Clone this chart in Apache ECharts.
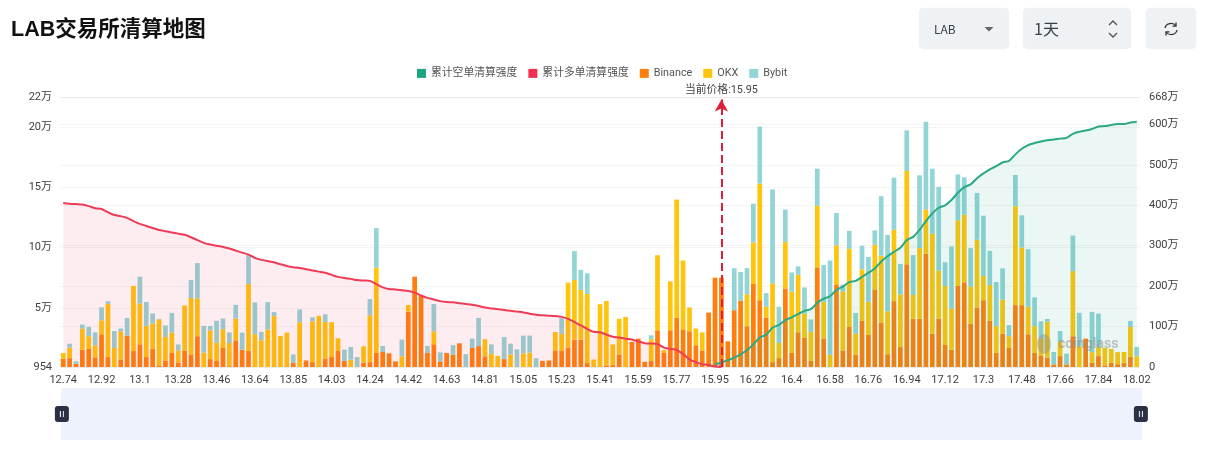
<!DOCTYPE html>
<html>
<head>
<meta charset="utf-8">
<title>LAB交易所清算地图</title>
<script src="https://cdn.jsdelivr.net/npm/echarts@6/dist/echarts.min.js"></script>
<style>
  html, body { margin: 0; padding: 0; background: #fff; overflow: hidden; }
  #chart { position: absolute; left: 0; top: 0; width: 1210px; height: 449px; }
  .ctl { position: absolute; top: 8px; height: 41px; background: #eff2f5; border-radius: 5px; box-shadow: 0 0 1px rgba(0,0,0,.12); font-family: "Noto Sans CJK SC", Roboto, sans-serif; color: #3a3f46; }
  .ctl span { position: absolute; top: 0; line-height: 41px; }
  .ctl svg { position: absolute; }
</style>
</head>
<body>
<div id="chart"></div>
<div class="ctl" style="left:919px;width:90px"><span style="left:15px;font-size:12px">LAB</span>
  <svg style="left:65px;top:19px" width="10" height="6"><path d="M0.5 0H9.5L5 4.5Z" fill="#666"/></svg></div>
<div class="ctl" style="left:1023px;width:108px"><span style="left:11px;font-size:16px">1天</span>
  <svg style="left:84px;top:11px" width="12" height="20" fill="none" stroke="#555" stroke-width="1.4"><path d="M2 6L6 2L10 6M2 14L6 18L10 14"/></svg></div>
<div class="ctl" style="left:1146px;width:50px">
  <svg style="left:17px;top:13px" width="16" height="16" fill="none" stroke="#333" stroke-width="1.3"><path d="M2 7A6 5.5 0 0 1 13 5M14 9A6 5.5 0 0 1 3 11"/><path d="M13 1.5V5.2H9.5M3 14.5V10.8H6.5"/></svg></div>
<script>
// Tick labels along the liquidation price axis, one every six price buckets.
const priceTicks = ['12.74','12.92','13.1','13.28','13.46','13.64','13.85','14.03','14.24','14.42','14.63','14.81','15.05','15.23','15.41','15.59','15.77','15.95','16.22','16.4','16.58','16.76','16.94','17.12','17.3','17.48','17.66','17.84','18.02'];

// Liquidation strength per price bucket, in units of 万.
const binance = [
  .78,.83,.36,1.53,1.59,.89,2.81,.92,.03,.72,
  2.70,1.42,1.98,.92,1.62,.23,.64,1.28,.47,1.47,
  1.14,2.65,.03,.75,.59,1.67,.16,2.31,1.53,1.42,
  0,0,0,0,0,0,.42,0,.64,.50,
  0,.80,.92,1.42,.59,0,0,.47,.50,1.26,
  1.34,1.23,.56,0,4.68,7.59,6.00,1.26,1.98,.56,
  1.26,1.11,2.06,0,1.67,1.83,.98,0,0,.75,
  0,0,0,0,0,.61,.64,1.47,1.42,1.72,
  2.37,2.37,.42,0,0,.23,.25,1.14,0,2.17,
  2.45,.53,.59,3.14,1.26,3.14,4.17,3.22,3.06,1.90,
  1.47,4.61,7.51,7.51,2.22,4.81,5.59,3.48,6.98,5.64,
  4.20,.50,.83,6.62,1.26,2.98,2.50,.59,8.37,2.47,
  0,6.95,1.47,3.42,1.11,3.92,2.75,6.54,3.76,1.16,
  5.56,1.75,8.62,4.09,4.09,9.49,2.86,4.12,1.92,1.53,
  6.82,7.12,3.70,5.04,5.64,3.92,1.26,2.86,1.67,5.23,
  5.23,2.81,1.26,1.06,.87,.31,1.00,.31,2.65,0,
  2.45,.44,1.00,.23,.44,.33,.42,.92,0
];
const okx = [
  .47,.87,0,1.75,1.06,1.00,1.16,4.40,1.64,2.34,
  0,5.40,3.39,2.59,2.09,3.81,1.95,1.67,1.00,3.73,
  4.68,3.14,1.26,2.39,1.53,1.56,1.92,1.81,0,5.56,
  2.81,2.31,3.20,4.32,2.67,2.95,0,3.81,0,3.39,
  4.34,3.03,2.89,1.06,0,.70,0,1.34,3.89,7.09,
  0,0,0,.98,.56,0,0,0,1.08,0,
  0,0,0,0,0,0,1.42,1.19,1.00,0,
  1.14,0,1.23,1.28,0,0,0,1.53,1.42,5.37,
  4.95,4.12,5.73,.72,5.31,5.34,1.72,2.95,4.25,0,
  0,0,1.81,6.23,.23,4.06,9.82,5.71,1.98,1.39,
  1.50,0,0,0,0,0,0,2.65,3.45,9.68,
  .89,6.54,1.26,3.84,5.09,4.76,2.03,2.42,5.09,3.03,
  1.11,3.25,4.87,6.48,1.75,4.28,2.75,3.70,5.56,3.56,
  5.92,4.37,7.74,1.98,5.87,3.67,8.29,3.98,4.89,3.42,
  5.45,5.61,3.06,5.61,2.00,2.98,2.22,2.83,.98,8.21,
  4.78,2.28,2.22,1.39,2.98,0,1.16,0,5.40,1.81,
  0,.89,.75,1.44,1.16,1.00,.92,2.50,.98
];
const bybit = [
  0,.33,.20,.33,.78,1.08,1.08,.23,1.42,.23,
  1.47,0,2.22,1.98,.83,.05,.95,1.64,.50,0,
  1.50,2.93,2.22,.36,1.81,.89,.89,1.14,1.42,2.42,
  2.65,.70,2.28,.33,0,0,.72,1.06,0,.33,
  0,.64,0,0,.95,1.06,.92,0,1.34,3.27,
  .50,0,0,1.39,0,0,0,.59,2.26,.75,
  0,.80,0,1.16,.78,2.34,0,.78,0,1.83,
  .89,1.56,1.47,1.42,.83,0,0,0,1.31,0,
  2.39,1.67,1.72,0,0,0,0,0,0,0,
  0,0,.33,0,0,0,0,0,0,0,
  0,0,0,0,0,3.48,2.39,2.17,3.22,4.73,
  1.14,7.79,3.01,2.70,1.59,.70,2.17,1.03,3.09,3.06,
  7.82,2.67,.59,1.50,1.72,1.95,3.73,1.19,4.95,6.34,
  4.32,2.53,3.37,3.31,6.04,7.28,5.40,6.95,1.98,5.15,
  3.81,3.11,3.20,3.89,5.01,2.83,3.67,2.59,.92,2.59,
  2.67,4.78,2.39,1.44,.23,1.03,.92,.89,2.95,2.78,
  0,3.34,2.78,0,0,0,0,.50,.78
];

// Cumulative long liquidations below the current price, in 万.
const cumulativeLong = [
  406,404,403,402,398,393,391,383,376,373,
  369,361,354,349,344,339,336,333,330,327,
  321,314,307,303,300,297,293,288,283,278,
  270,265,262,259,254,250,247,245,242,239,
  236,233,228,223,220,218,215,214,213,205,
  197,193,192,190,188,184,177,171,167,163,
  161,160,158,156,154,151,147,145,143,141,
  139,137,135,132,129,128,127,126,124,119,
  111,103,94,87,86,80,75,73,70,68,
  63,59,58,57,48,45,42,32,19,12,
  7,5,1,0
];
// Cumulative short liquidations above the current price, in 万; starts at bucket 102.
const cumulativeShort = [
  6,11,17,23,31,42,56,73,80,97,
  104,116,123,131,139,143,159,169,175,191,
  199,210,213,223,233,244,261,274,285,295,
  314,322,339,361,380,394,400,413,431,445,
  452,467,479,489,497,506,510,526,540,549,
  554,558,561,563,565,567,577,582,585,589,
  595,596,599,601,601,605,607
];

const leftTicks = [0.0954, 5, 10, 15, 20, 22.5];
const rightTicks = [0, 100, 200, 300, 400, 500, 600, 668];
const currentPriceLabel = '当前价格:15.95';
const currentPriceBucket = 103;

const bucketCount = binance.length;
const categories = [];
for (let i = 0; i < bucketCount; i++) categories.push(i % 6 === 0 ? priceTicks[i / 6] : '');
const shortSeries = new Array(bucketCount - cumulativeShort.length).fill(null).concat(cumulativeShort);

const tickFont = { color: '#3d3d3d', fontSize: 11, fontFamily: 'Roboto, "Noto Sans CJK SC", sans-serif' };
const faintLine = { show: true, lineStyle: { color: 'rgba(0,0,0,0.045)', type: 'solid', width: 1 } };

function barSeries(name, data, color) {
  return { name, type: 'bar', stack: 'exchange', data, barWidth: 4.7, itemStyle: { color } };
}

const chart = echarts.init(document.getElementById('chart'));
chart.setOption({
  animation: false,
  backgroundColor: '#fff',
  title: {
    text: 'LAB交易所清算地图', left: 11, top: 19, padding: 0,
    textStyle: { fontSize: 21.5, fontWeight: 'bold', color: '#111', fontFamily: '"Liberation Sans", "Noto Sans CJK SC", sans-serif' }
  },
  legend: {
    top: 63, left: 412, icon: 'rect', itemWidth: 9, itemHeight: 9, itemGap: 11,
    textStyle: { color: '#555', fontSize: 10.8, fontFamily: 'Roboto, "Noto Sans CJK SC", sans-serif' },
    data: ['累计空单清算强度', '累计多单清算强度', 'Binance', 'OKX', 'Bybit']
  },
  grid: { left: 60, right: 70, top: 97, height: 270 },
  xAxis: {
    type: 'category', data: categories, boundaryGap: true,
    axisLine: { show: false }, axisTick: { show: false }, splitLine: { show: false },
    axisLabel: Object.assign({}, tickFont, { interval: 5, margin: 8, showMinLabel: true, showMaxLabel: true })
  },
  yAxis: [
    {
      type: 'value', min: leftTicks[0], max: 22.5, position: 'left',
      axisLine: { show: false }, axisTick: { show: false, customValues: leftTicks },
      splitLine: faintLine,
      axisLabel: Object.assign({}, tickFont, {
        customValues: leftTicks, margin: 8, padding: [4, 0, 0, 0],
        formatter: v => (v < 1 ? String(Math.round(v * 10000)) : Math.floor(v) + '万')
      })
    },
    {
      type: 'value', min: 0, max: 668, position: 'right',
      axisLine: { show: false }, axisTick: { show: false, customValues: rightTicks },
      splitLine: faintLine,
      axisLabel: Object.assign({}, tickFont, {
        customValues: rightTicks, margin: 9, padding: [4, 0, 0, 0],
        formatter: v => (v === 0 ? '0' : v + '万')
      })
    }
  ],
  dataZoom: [{
    type: 'slider', xAxisIndex: 0, start: 0, end: 100,
    left: 60, right: 69, top: 388, height: 52,
    backgroundColor: '#eef2fd', fillerColor: 'rgba(238,242,253,0.4)',
    borderColor: 'transparent', borderRadius: 0,
    showDetail: false, showDataShadow: false, brushSelect: false, moveHandleSize: 0,
    handleIcon: 'path://M3 0H11A3 3 0 0 1 14 3V13A3 3 0 0 1 11 16H3A3 3 0 0 1 0 13V3A3 3 0 0 1 3 0ZM5 5V11H6V5ZM8 5V11H9V5Z',
    handleSize: 16,
    handleStyle: { color: '#2b3044', borderWidth: 0 }
  }],
  series: [
    {
      name: '累计空单清算强度', type: 'line', yAxisIndex: 1, data: shortSeries,
      showSymbol: false, smooth: 0.25, z: 4,
      lineStyle: { color: '#2aa985', width: 2 }, itemStyle: { color: '#1ba581' },
      areaStyle: { color: 'rgba(27,165,129,0.13)' }
    },
    {
      name: '累计多单清算强度', type: 'line', yAxisIndex: 1, data: cumulativeLong,
      showSymbol: false, smooth: 0.25, z: 4,
      lineStyle: { color: '#ee3b56', width: 2 }, itemStyle: { color: '#f0304e' },
      areaStyle: { color: 'rgba(240,48,78,0.12)' }
    },
    Object.assign(barSeries('Binance', binance, '#ff7f0e'), {
      markLine: {
        silent: true, symbol: ['none', 'arrow'], symbolSize: [10, 12], z: 6,
        lineStyle: { color: '#dd1f3c', type: 'dashed', width: 2 },
        label: { show: true, position: 'end', formatter: currentPriceLabel, distance: 4, color: '#444', fontSize: 10.8, fontFamily: 'Roboto, "Noto Sans CJK SC", sans-serif' },
        data: [[{ coord: [currentPriceBucket, leftTicks[0]] }, { coord: [currentPriceBucket, 22.3] }]]
      }
    }),
    barSeries('OKX', okx, '#ffc40d'),
    barSeries('Bybit', bybit, '#93d4d6')
  ],
  graphic: [
    { type: 'text', left: 1058, top: 337, z: 10, silent: true,
      style: { text: 'coinglass', fill: 'rgba(140,140,140,0.5)', fontSize: 14, fontWeight: 'bold', fontFamily: 'Roboto, sans-serif' } },
    { type: 'ellipse', shape: { cx: 1044, cy: 344, rx: 7, ry: 10 }, z: 10, silent: true,
      style: { fill: 'rgba(140,140,140,0.42)' } }
  ]
});
</script>
</body>
</html>
